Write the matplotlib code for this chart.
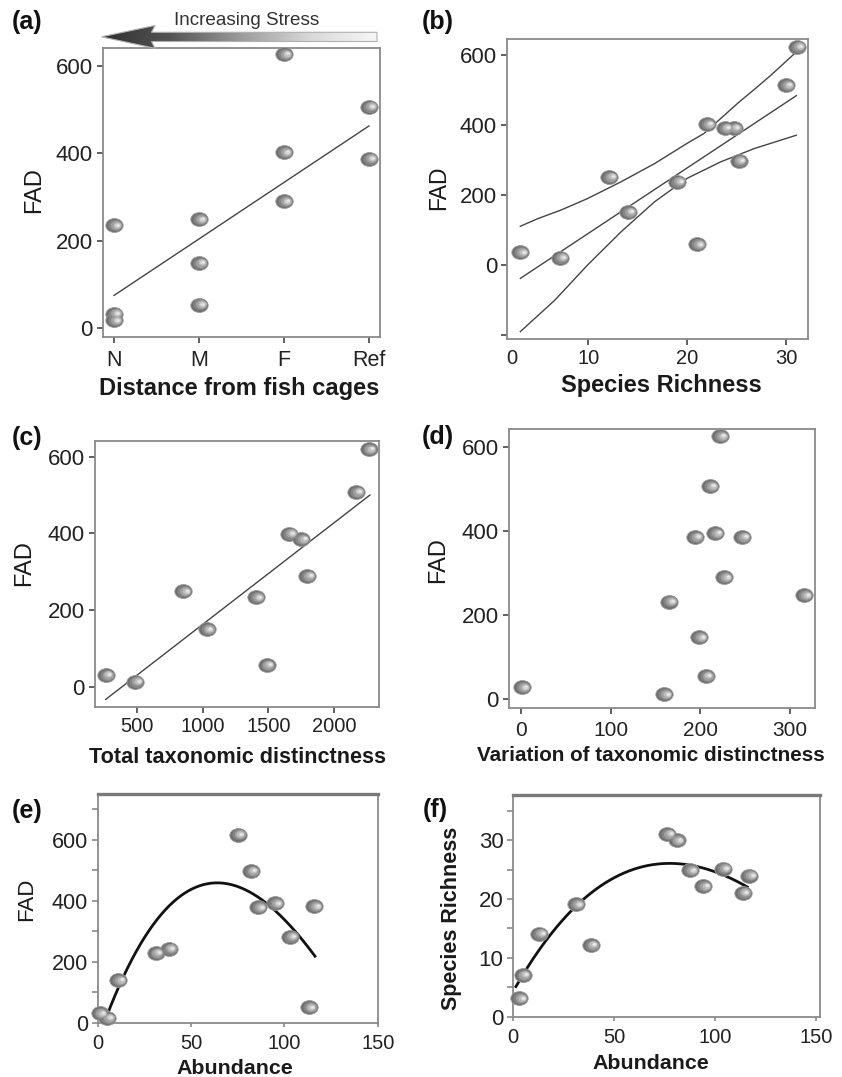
import numpy as np
import matplotlib
matplotlib.use('Agg')
import matplotlib.pyplot as plt
from matplotlib.path import Path
from matplotlib.markers import MarkerStyle
from matplotlib.transforms import ScaledTranslation, Affine2D
from matplotlib.patches import PathPatch
from matplotlib.colors import LinearSegmentedColormap

plt.rcParams['font.family'] = ['Liberation Sans', 'DejaVu Sans']

# ---------------- data ----------------
# (a) FAD vs distance from fish cages
a_categories = ['N', 'M', 'F', 'Ref']
a_group = ['N', 'N', 'N', 'M', 'M', 'M', 'F', 'F', 'F', 'Ref', 'Ref']
a_fad = [235, 33, 18, 249, 149, 54, 626, 402, 290, 506, 387]
a_fit_cat = ['N', 'Ref']
a_fit_fad = [75, 462]

# (b) FAD vs species richness
b_sr = [3.1, 7.1, 12.1, 14.0, 19.0, 21.0, 22.0, 23.8, 24.7, 25.2, 30.0, 31.1]
b_fad = [36, 21, 252, 152, 238, 59, 403, 392, 392, 298, 514, 624]
b_fit_sr = [3.1, 31.05]
b_fit_fad = [-38, 484]
b_upper_sr = [3.1, 4.9, 7.2, 9.9, 13.3, 16.7, 20.0, 21.7, 25.1, 26.8, 28.5, 31.05]
b_upper_fad = [111, 133, 157, 190, 238, 290, 348, 376, 462, 502, 543, 609]
b_lower_sr = [3.1, 6.6, 9.9, 13.3, 16.7, 20.0, 23.4, 26.8, 31.05]
b_lower_fad = [-190, -100, 0, 95, 181, 248, 295, 333, 371]

# (c) FAD vs total taxonomic distinctness
c_ttd = [265, 490, 854, 1031, 1405, 1486, 1656, 1749, 1795, 2164, 2260]
c_fad = [31, 13, 249, 150, 233, 57, 399, 385, 289, 508, 620]
c_fit_ttd = [265, 2270]
c_fit_fad = [-33, 500]

# (d) FAD vs variation of taxonomic distinctness
d_vtd = [1, 160, 165, 199, 206, 194, 217, 247, 227, 316, 211, 222]
d_fad = [29, 12, 233, 148, 56, 387, 396, 387, 291, 248, 508, 627]

# (e) FAD vs abundance
e_ab = [1, 5, 11, 31, 38, 75, 82, 86, 95, 103, 113, 116]
e_fad = [31, 16, 140, 229, 243, 617, 498, 378, 391, 282, 50, 382]
e_curve_ab = [4.8, 12, 22.7, 37, 54.8, 69.1, 83.4, 99.5, 116.4]
e_curve_fad = [9, 140, 265, 369, 440, 455, 430, 342, 216]

# (f) species richness vs abundance
f_ab = [3, 4.6, 12.9, 31, 38.4, 76.4, 80.9, 87.6, 94.2, 104, 113.7, 117]
f_sr = [3.1, 7.1, 14.1, 19.1, 12.2, 31.1, 30.0, 24.9, 22.2, 25.2, 21.1, 24.0]
f_curve_ab = [1.3, 7.1, 20.3, 33.5, 53.3, 69.8, 83, 99.5, 116]
f_curve_sr = [5.1, 8.5, 14.7, 19.5, 24.3, 25.9, 26.0, 24.6, 22.1]

# ---------------- figure ----------------
W, H = 842, 1077
fig = plt.figure(figsize=(W / 100, H / 100), dpi=100)


def add_axes(l, r, t, b):
    return fig.add_axes([l / W, 1 - b / H, (r - l) / W, (b - t) / H])


def ftext(px, py, s, **kw):
    fig.text(px / W, 1 - py / H, s, **kw)


ell = Path.unit_circle().transformed(Affine2D().scale(1, 0.8))


def spheres(ax, x, y, ms=12.5):
    layers = [(1.0, '#6e6e6e', 0.0, 0.0),
              (0.82, '#858585', 1.0, 0.1),
              (0.64, '#a0a0a0', 1.9, 0.3),
              (0.46, '#bcbcbc', 2.7, 0.5),
              (0.28, '#d8d8d8', 3.3, 0.7),
              (0.14, '#ececec', 3.7, 0.8)]
    for i, (sc, col, dx, dy) in enumerate(layers):
        tr = ax.transData + ScaledTranslation(dx / 100, dy / 100, fig.dpi_scale_trans)
        ax.plot(x, y, ls='none', marker=MarkerStyle(ell), ms=ms * sc, mfc=col,
                mec='#9a9a9a' if i == 0 else 'none', mew=0.6,
                transform=tr, clip_on=False, zorder=3 + i)


def style_box(ax, xsize, ysize, xpad):
    for sp in ax.spines.values():
        sp.set_color('#8a8a8a')
        sp.set_linewidth(1.3)
    ax.tick_params(axis='both', direction='out', length=4.5, width=1.2,
                   color='#444444', labelcolor='#222222')
    ax.tick_params(axis='y', labelsize=ysize, pad=3)
    ax.tick_params(axis='x', labelsize=xsize, pad=xpad)


LINE = dict(color='#444444', lw=1.0, zorder=2)

# ---- (a)
ax = add_axes(103, 380, 48, 337)
pos = {c: i + 1 for i, c in enumerate(a_categories)}
ax.plot([pos[c] for c in a_fit_cat], a_fit_fad, **LINE)
spheres(ax, [pos[c] for c in a_group], a_fad)
ax.set_xlim(0.87, 4.13)
ax.set_ylim(-20, 640)
ax.set_xticks(range(1, 5))
ax.set_xticklabels(a_categories)
ax.set_yticks([0, 200, 400, 600])
style_box(ax, 15.5, 16, 5)

# ---- (b)
ax = add_axes(507.5, 807.7, 39.3, 339.3)
ax.plot(b_fit_sr, b_fit_fad, **LINE)
ax.plot(b_upper_sr, b_upper_fad, **LINE)
ax.plot(b_lower_sr, b_lower_fad, **LINE)
spheres(ax, b_sr, b_fad)
ax.set_xlim(1.8, 32.2)
ax.set_ylim(-212, 645)
ax.set_xticks([2.26, 10, 20, 30])
ax.set_xticklabels(['0', '10', '20', '30'])
ax.set_yticks([-200, 0, 200, 400, 600])
ax.set_yticklabels(['', '0', '200', '400', '600'])
style_box(ax, 14.5, 16, 2.5)
ax.xaxis.get_major_ticks()[0].tick1line.set_visible(False)

# ---- (c)
ax = add_axes(95, 379, 441, 706.7)
ax.plot(c_fit_ttd, c_fit_fad, **LINE)
spheres(ax, c_ttd, c_fad)
ax.set_xlim(184, 2339)
ax.set_ylim(-52, 641)
ax.set_xticks([500, 1000, 1500, 2000])
ax.set_yticks([0, 200, 400, 600])
style_box(ax, 14.5, 16, 3)

# ---- (d)
ax = add_axes(509.3, 815, 429.3, 708.3)
spheres(ax, d_vtd, d_fad)
ax.set_xlim(-13, 328)
ax.set_ylim(-21, 643)
ax.set_xticks([0, 100, 200, 300])
ax.set_yticks([0, 200, 400, 600])
style_box(ax, 15, 16, 5)


def style_open(ax, xsize, ysize):
    for sp in ax.spines.values():
        sp.set_color('#8a8a8a')
        sp.set_linewidth(1.3)
    ax.spines['top'].set_linewidth(2.4)
    ax.spines['top'].set_color('#7a7a7a')
    ax.tick_params(axis='both', which='both', direction='out', color='#8a8a8a',
                   labelcolor='#222222', width=1.2)
    ax.tick_params(axis='y', which='major', length=4, labelsize=ysize, pad=3)
    ax.tick_params(axis='y', which='minor', length=4)
    ax.tick_params(axis='x', which='major', length=3, labelsize=xsize, pad=5)


# ---- (e)
ax = add_axes(97.7, 377.7, 794, 1022.7)
ce = np.polyfit(e_curve_ab, e_curve_fad, 3)
xe = np.linspace(min(e_curve_ab), max(e_curve_ab), 200)
ax.plot(xe, np.polyval(ce, xe), color='#111111', lw=2.0, zorder=2)
spheres(ax, e_ab, e_fad)
ax.set_xlim(0, 150)
ax.set_ylim(0, 750)
ax.set_xticks([0, 50, 100, 150])
ax.set_yticks([0, 200, 400, 600])
ax.set_yticks([100, 300, 500, 700], minor=True)
style_open(ax, 14.5, 15.5)

# ---- (f)
ax = add_axes(513.3, 820, 795, 1016.7)
cf = np.polyfit(f_curve_ab, f_curve_sr, 3)
xf = np.linspace(min(f_curve_ab), max(f_curve_ab), 200)
ax.plot(xf, np.polyval(cf, xf), color='#111111', lw=2.0, zorder=2)
spheres(ax, f_ab, f_sr)
ax.set_xlim(0, 152)
ax.set_ylim(0, 37.7)
ax.set_xticks([0, 50, 100, 150])
ax.set_yticks([0, 10, 20, 30])
ax.set_yticks([5, 15, 25, 35], minor=True)
style_open(ax, 14.5, 16)

# ---------------- labels ----------------
lab = dict(color='#1a1a1a')
ftext(34, 190, 'FAD', rotation=90, ha='center', va='center', fontsize=17, **lab)
ftext(439, 188, 'FAD', rotation=90, ha='center', va='center', fontsize=16.5, **lab)
ftext(24, 563, 'FAD', rotation=90, ha='center', va='center', fontsize=17, **lab)
ftext(438, 560, 'FAD', rotation=90, ha='center', va='center', fontsize=17, **lab)
ftext(27, 899, 'FAD', rotation=90, ha='center', va='center', fontsize=16, **lab)
ftext(452, 918, 'Species Richness', rotation=90, ha='center', va='center',
      fontsize=15.5, fontweight='bold', **lab)

ftext(239, 395, 'Distance from fish cages', ha='center', va='baseline', fontsize=17, fontweight='bold', **lab)
ftext(661, 392, 'Species Richness', ha='center', va='baseline', fontsize=17, fontweight='bold', **lab)
ftext(237.5, 763, 'Total taxonomic distinctness', ha='center', va='baseline', fontsize=15.6, fontweight='bold', **lab)
ftext(651, 761, 'Variation of taxonomic distinctness', ha='center', va='baseline', fontsize=14.9, fontweight='bold', **lab)
ftext(235, 1074, 'Abundance', ha='center', va='baseline', fontsize=15.4, fontweight='bold', **lab)
ftext(651, 1069, 'Abundance', ha='center', va='baseline', fontsize=15.4, fontweight='bold', **lab)

for px, py, s in [(12, 22, '(a)'), (422, 22, '(b)'), (12, 438, '(c)'),
                  (422, 437, '(d)'), (12, 811, '(e)'), (423, 810, '(f)')]:
    ftext(px, py, s, ha='left', va='center', fontsize=18, fontweight='bold', color='#111111')

# ---------------- stress arrow ----------------
aa = fig.add_axes([0, 0, 1, 1], zorder=10)
aa.set_xlim(0, W)
aa.set_ylim(H, 0)
aa.axis('off')
aa.patch.set_visible(False)
verts = [(101.5, 36.8), (155, 25.5), (151.5, 32.3), (377, 32.3), (377, 41.5),
         (151.5, 41.5), (155, 48.3), (101.5, 36.8)]
codes = [Path.MOVETO] + [Path.LINETO] * 6 + [Path.CLOSEPOLY]
arrow_path = Path(verts, codes)
patch = PathPatch(arrow_path, facecolor='none', edgecolor='#b0b0b0', lw=0.8, zorder=3)
aa.add_patch(patch)
cmap = LinearSegmentedColormap.from_list('stress', ['#2f2f2f', '#555555', '#9a9a9a', '#d8d8d8', '#f7f7f7'])
grad = np.linspace(0, 1, 256).reshape(1, -1)
im = aa.imshow(grad, cmap=cmap, extent=(101.5, 377, 48.3, 25.5), aspect='auto', zorder=2)
im.set_clip_path(patch)
aa.set_xlim(0, W)
aa.set_ylim(H, 0)
ftext(246.5, 25, 'Increasing Stress', ha='center', va='baseline', fontsize=13.6, color='#333333')

fig.savefig('out.png', dpi=100)
